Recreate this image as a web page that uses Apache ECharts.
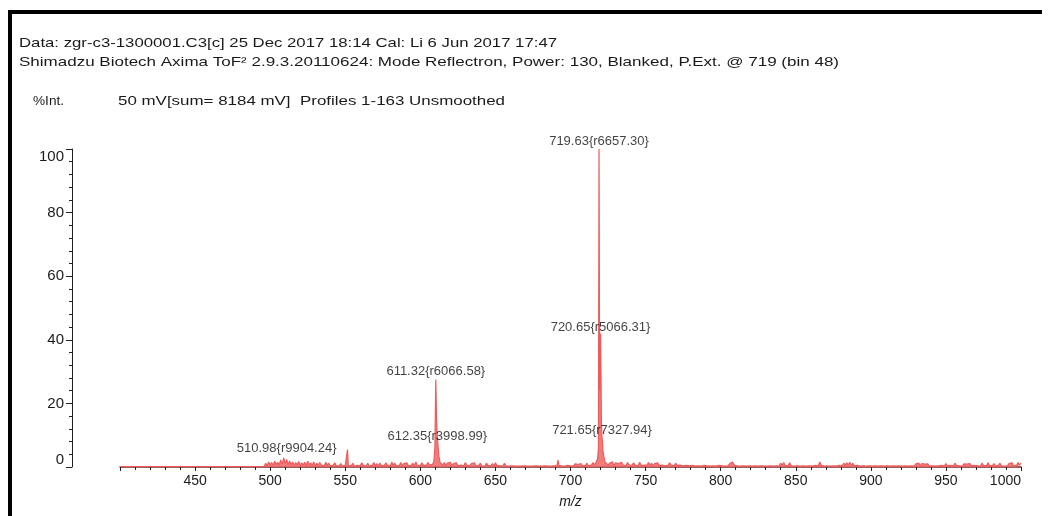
<!DOCTYPE html>
<html><head><meta charset="utf-8">
<script src="https://cdn.jsdelivr.net/npm/echarts@6/dist/echarts.min.js"></script>
<style>html,body{margin:0;padding:0;background:#fff}#c{width:1051px;height:516px}</style>
</head><body><div id="c"></div>
<script>
// ---- texts ----
const headerLine1 = 'Data: zgr-c3-1300001.C3[c] 25 Dec 2017 18:14 Cal: Li 6 Jun 2017 17:47';
const headerLine2 = 'Shimadzu Biotech Axima ToF\u00b2 2.9.3.20110624: Mode Reflectron, Power: 130, Blanked, P.Ext. @ 719 (bin 48)';
const yUnitText = '%Int.';
const infoText = '50 mV[sum= 8184 mV]  Profiles 1-163 Unsmoothed';
const xAxisName = 'm/z';

// ---- axis ranges ----
const xMin = 400, xMax = 1000, xStep = 50;
const yMin = 0, yMax = 100, yStep = 20;

// ---- spectrum (m/z, %Int) ----
const baseline = [[400, 0.15], [496, 0.15]];
// noise blocks sampled every 1 m/z from their start
const noise497Start = 497;
const noise497 = [1.2,0.4,1.6,0.6,1.4,0.5,1.8,0.7,1.5,0.6,
  2.2,0.8,2.9,1.0,2.4,0.7,1.9,0.6,1.6,0.5,
  1.4,0.6,1.7,0.5,1.3,0.6,1.5,0.4,1.8,0.6,
  1.3,0.5,1.6,0.4,1.2,0.5,1.4,0.6,1.1,0.4,
  1.5,0.5,1.2,0.4,1.0,0.5,1.3,0.4,0.9,0.4,
  1.1,0.3,0.9];
const spike552 = [[550, 0.5], [551, 0.4], [551.5, 5.5], [552, 0.5]];
const noise553Start = 553;
const noise553 = [1.0,0.4,1.2,0.3,0.9,0.5,1.1,0.4,1.3,0.5,
  1.0,0.3,1.2,0.4,0.9,0.5,1.4,0.4,1.1,0.3,
  1.2,0.5,1.0,0.4,1.3,0.6,1.1,0.4,1.5,0.5,
  1.2,0.4,1.0,0.5,1.4,0.4,1.1,0.6,1.3,0.4,
  1.0,0.5,1.2,0.4,1.6,0.5,1.1,0.4,1.3,0.6,
  1.2,0.5,1.4,0.6,1.0];
const peak611 = [[608, 0.8], [609, 1.6], [609.7, 6], [610.3, 27.5], [610.8, 15], [611.3, 9.5], [611.8, 6.5], [612.3, 3.5], [613, 1.6]];
const noise614Start = 614;
const noise614 = [1.8,0.6,1.4,0.5,1.2,0.6,1.5,0.4,1.1,0.5,
  1.3,0.4,1.0,0.6,1.2,0.4,1.4,0.5,1.0,0.4,
  1.1,0.5,1.3,0.4,0.9,0.5,1.2,0.4,1.0,0.3,
  1.2,0.5,0.9,0.4,1.1,0.3,1.3,0.5,0.9,0.4,
  1.0,0.3,1.2,0.4,0.8,0.3,0.7,0.4,0.6,0.3,
  0.6,0.3,0.5,0.3,0.6,0.4,0.5,0.3,0.6,0.3,
  0.5,0.3,0.6,0.4,0.5,0.3,0.6,0.3,0.5,0.4,
  0.6,0.3,0.5,0.3,0.6,0.4,0.5];
const peak692 = [[691, 0.4], [691.7, 2.2], [692.3, 0.5]];
const noise693Start = 693;
const noise693 = [0.9,0.4,1.0,0.3,0.8,0.5,1.1,0.4,0.9,0.3,
  1.0,0.4,0.8,0.5,1.1,0.4,0.9,0.5,1.2,0.4,
  1.0,0.6,1.4,0.7];
const peak719 = [[717, 1.5], [718, 2.4], [718.6, 6], [719.0, 100], [719.4, 24], [719.7, 31], [720.0, 42], [720.3, 30], [720.6, 14], [720.9, 9.5], [721.2, 8.5], [721.6, 5], [722.0, 4], [722.5, 2.5], [723, 1.6]];
const noise724Start = 724;
const noise724 = [1.4,0.5,1.2,0.6,1.6,0.4,1.3,0.7,1.1,0.5,
  1.5,0.6,1.2,0.4,1.4,0.7,1.0,0.5,1.3,0.6,
  1.1,0.4,1.5,0.6,1.2,0.5,1.0,0.7,1.4,0.5,
  1.2,0.4,1.1,0.6,1.3,0.5,0.9,0.6,1.2,0.4,
  1.0,0.5,1.3,0.6,1.1,0.4,1.2,0.5,0.9,0.6,
  1.1,0.4,0.9,0.5,1.0,0.4,0.8,0.5,1.0,0.3,
  0.8,0.4,0.9,0.3,0.7,0.5,0.9,0.4,0.8,0.3,
  0.7,0.4,0.9,0.3,0.8,0.5,1.0,0.4,0.8,0.3,
  0.9,0.4,1.1,0.5,1.6,0.6,1.2,0.4,0.9,0.3,
  0.8,0.4,0.7,0.3,0.9,0.4,0.6,0.3,0.8,0.4,
  0.6,0.3,0.7,0.4,0.6,0.3,0.8,0.3,0.6,0.4,
  0.7,0.3,0.6,0.4,0.9,0.3,1.2,0.5,1.4,0.4,
  1.0,0.5,1.3,0.4,0.9,0.3,0.7,0.4,0.8,0.3,
  0.6,0.4,0.7,0.3,0.8,0.4,1.0,0.3,0.9,0.5,
  1.1,0.4,1.6,0.5,1.0,0.3,0.8,0.4,0.7,0.3,
  0.6,0.4,0.8,0.3,0.7,0.5,1.0,0.4,1.2,0.5,
  1.3,0.6,1.5,0.5,1.2,0.4,1.0,0.5,0.8,0.3,
  0.7,0.4,0.6,0.3,0.8,0.4,0.6,0.3,0.9,0.4,
  0.7,0.3,0.6,0.4,0.8,0.3,0.6,0.4,0.7,0.3,
  0.6,0.4,0.8,0.3,0.7,0.4,0.6,0.3,0.8,0.4,
  0.7,0.3,0.9,0.4,0.8,0.3,1.0,0.5,1.2,0.4,
  1.1,0.5,0.9,0.4,1.0,0.3,0.8,0.4,0.9,0.3,
  0.8,0.4,1.0,0.5,0.9,0.3,1.1,0.4,0.8,0.5,
  1.0,0.4,1.2,0.5,0.9,0.4,0.8,0.3,1.0,0.4,
  0.9,0.3,1.1,0.4,0.8,0.5,1.0,0.4,0.9,0.3,
  1.2,0.5,1.0,0.4,1.3,0.5,0.9,0.4,1.1,0.3,
  0.9,0.5,1.2,0.4,1.0,0.3,0.8,0.4,1.1,0.5,
  1.3,0.4,1.0,0.5,1.4,0.6,1.2];

// ---- peak annotations ----
const peakLabelMz  = [719.0, 720.0, 721.0, 610.3, 611.3, 510.98];
const peakLabelInt = [100, 41.5, 9.0, 27.6, 7.2, 3.6];
const peakLabelText = ['719.63{r6657.30}', '720.65{r5066.31}', '721.65{r7327.94}',
  '611.32{r6066.58}', '612.35{r3998.99}', '510.98{r9904.24}'];

// ---- build ----
function block(start, vals) { return vals.map((v, i) => [start + i, v]); }
const spectrum = [].concat(
  baseline,
  block(noise497Start, noise497),
  spike552,
  block(noise553Start, noise553),
  peak611,
  block(noise614Start, noise614),
  peak692,
  block(noise693Start, noise693),
  peak719,
  block(noise724Start, noise724)
).sort((a, b) => a[0] - b[0]);

const FONT = '"Liberation Sans", Arial, sans-serif';
const mc = document.createElement('canvas').getContext('2d');
function fitText(text, size, x, y, targetW) {
  mc.font = size + 'px ' + FONT;
  const w = mc.measureText(text).width;
  return {
    type: 'text', x: x, y: y, scaleX: targetW / w, originX: 0, originY: 0,
    style: { text: text, font: size + 'px ' + FONT, fill: '#1a1a1a', verticalAlign: 'middle' }
  };
}

const chart = echarts.init(document.getElementById('c'), null, { renderer: 'canvas' });
chart.setOption({
  animation: false,
  backgroundColor: '#fff',
  grid: { left: 120, right: 30, top: 149, bottom: 49, containLabel: false },
  xAxis: {
    type: 'value', min: xMin, max: xMax, interval: xStep,
    name: xAxisName, nameLocation: 'middle', nameGap: 28,
    nameTextStyle: { fontStyle: 'italic', fontSize: 14, color: '#1a1a1a', fontFamily: FONT },
    axisLine: { show: true, onZero: false, lineStyle: { color: '#7a2a2a', width: 1.5 } },
    axisTick: { show: true, length: 4, lineStyle: { color: '#222' } },
    minorTick: { show: true, splitNumber: 5, length: 3, lineStyle: { color: '#222' } },
    splitLine: { show: false },
    axisLabel: { fontSize: 14, color: '#1a1a1a', fontFamily: FONT, margin: 7, showMinLabel: false,
      alignMaxLabel: 'right', formatter: v => String(v) }
  },
  yAxis: {
    type: 'value', min: yMin, max: yMax, interval: yStep, offset: 48,
    axisLine: { show: true, lineStyle: { color: '#222', width: 1 } },
    axisTick: { show: true, length: 6, lineStyle: { color: '#222' } },
    minorTick: { show: true, splitNumber: 5, length: 3, lineStyle: { color: '#222' } },
    splitLine: { show: false },
    axisLabel: { fontSize: 15, color: '#1a1a1a', fontFamily: FONT, margin: 8,
      verticalAlignMaxLabel: 'top', verticalAlignMinLabel: 'bottom', formatter: v => String(v) }
  },
  series: [
    {
      type: 'line', data: spectrum, showSymbol: false, symbol: 'none', silent: true,
      lineStyle: { color: '#ef5b5b', width: 1.2 },
      areaStyle: { color: '#f06464', opacity: 0.85 },
      z: 3
    },
    {
      type: 'scatter', symbolSize: 0, silent: true, z: 4,
      data: peakLabelMz.map((m, i) => ({ value: [m, peakLabelInt[i]], name: peakLabelText[i] })),
      label: { show: true, position: 'top', distance: 1, formatter: p => p.name,
        fontSize: 13, color: '#111', fontFamily: FONT }
    }
  ],
  graphic: [
    { type: 'rect', shape: { x: 8, y: 10, width: 1034, height: 4 }, style: { fill: '#000' } },
    { type: 'rect', shape: { x: 8, y: 10, width: 4, height: 506 }, style: { fill: '#000' } },
    fitText(headerLine1, 13.5, 19, 43, 538),
    fitText(headerLine2, 13.5, 19, 62, 820),
    fitText(yUnitText, 13.5, 33, 101, 31),
    fitText(infoText, 13.5, 118, 101, 387)
  ]
});
</script></body></html>
